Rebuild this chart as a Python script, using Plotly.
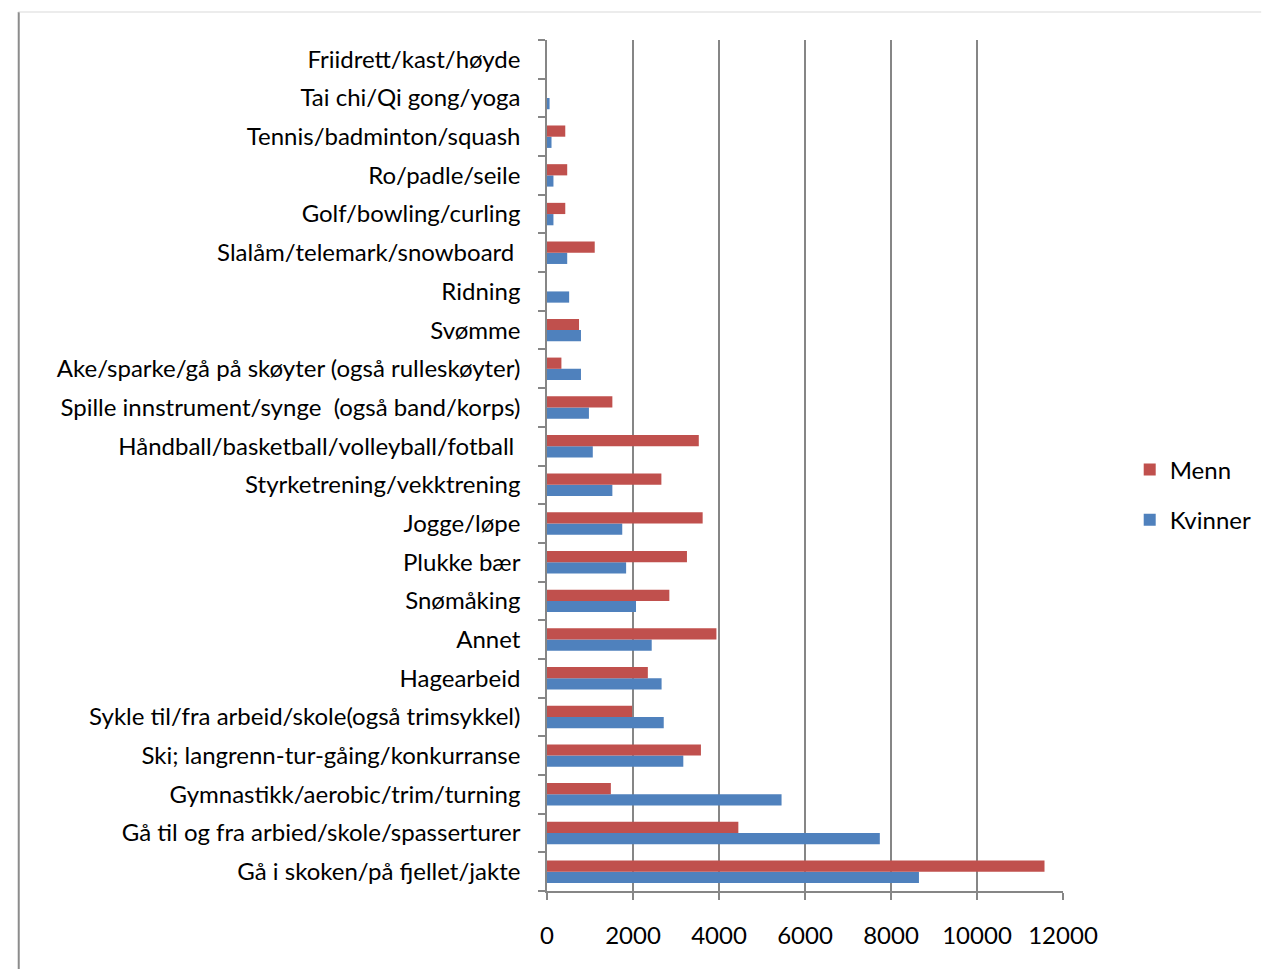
import plotly.graph_objects as go

categories = [
    "Gå i skoken/på fjellet/jakte",
    "Gå til og fra arbied/skole/spasserturer",
    "Gymnastikk/aerobic/trim/turning",
    "Ski; langrenn-tur-gåing/konkurranse",
    "Sykle til/fra arbeid/skole(også trimsykkel)",
    "Hagearbeid",
    "Annet",
    "Snømåking",
    "Plukke bær",
    "Jogge/løpe",
    "Styrketrening/vekktrening",
    "Håndball/basketball/volleyball/fotball ",
    "Spille innstrument/synge  (også band/korps)",
    "Ake/sparke/gå på skøyter (også rulleskøyter)",
    "Svømme",
    "Ridning",
    "Slalåm/telemark/snowboard ",
    "Golf/bowling/curling",
    "Ro/padle/seile",
    "Tennis/badminton/squash",
    "Tai chi/Qi gong/yoga",
    "Friidrett/kast/høyde",
]

kvinner = [8650, 7740, 5455, 3170, 2715, 2665, 2435, 2070, 1840, 1750, 1520,
           1065, 975, 790, 790, 515, 470, 150, 150, 105, 60, 0]
menn = [11570, 4450, 1485, 3580, 1980, 2345, 3940, 2845, 3255, 3620, 2660,
        3530, 1520, 335, 745, 0, 1110, 425, 470, 425, 0, 0]

x_ticks = [0, 2000, 4000, 6000, 8000, 10000, 12000]

FONT = "Lato"
FS = 24
W, H = 1269, 969
L, R, T, B = 547, 1269 - 1073, 40, 969 - 891
pw, ph = W - L - R, H - T - B

fig = go.Figure()
fig.add_trace(go.Bar(y=categories, x=kvinner, name="Kvinner", orientation="h",
                     marker=dict(color="#4F81BD", line=dict(width=0)),
                     legendgroup="k", legendrank=2))
fig.add_trace(go.Bar(y=categories, x=menn, name="Menn", orientation="h",
                     marker=dict(color="#C0504D", line=dict(width=0)),
                     legendgroup="m", legendrank=1))

def px_x(p):
    return (p - L) / pw

def px_y(p):
    return (H - B - p) / ph

# chart border (left + top)
fig.add_shape(type="line", xref="paper", yref="paper",
              x0=px_x(8.5), x1=px_x(8.5), y0=px_y(12), y1=px_y(975),
              line=dict(color="#8c8c8c", width=2))
fig.add_shape(type="line", xref="paper", yref="paper",
              x0=px_x(8), x1=px_x(1275), y0=px_y(12), y1=px_y(12),
              line=dict(color="#d9d9d9", width=1))

fig.update_layout(
    width=W, height=H,
    margin=dict(l=L, r=R, t=T, b=B, pad=0),
    paper_bgcolor="white", plot_bgcolor="white",
    barmode="group", bargap=0.42, bargroupgap=0,
    font=dict(family=FONT, size=FS, color="#000000"),
    showlegend=True,
    legend=dict(x=px_x(1141), y=px_y(495), xanchor="left", yanchor="middle",
                traceorder="grouped", tracegroupgap=16,
                font=dict(family=FONT, size=FS, color="#000"),
                bgcolor="rgba(0,0,0,0)"),
    xaxis=dict(range=[0, 12000], tickvals=x_ticks, ticktext=[str(v) for v in x_ticks],
               showgrid=True, gridcolor="#868686", gridwidth=1.5,
               showline=True, linecolor="#868686", linewidth=1.5,
               ticks="outside", ticklen=7, tickcolor="#868686", tickwidth=1.5,
               ticklabelstandoff=15, zeroline=False,
               tickfont=dict(family=FONT, size=FS, color="#000")),
    yaxis=dict(type="category", categoryorder="array", categoryarray=categories,
               showline=True, linecolor="#868686", linewidth=1.5,
               ticks="outside", ticklen=7, tickcolor="#868686", tickwidth=1.5,
               tickson="boundaries", showgrid=False,
               ticklabelstandoff=20,
               tickfont=dict(family=FONT, size=FS, color="#000")),
)

fig.write_html("out.html", config={"displayModeBar": False},
               post_script="document.body.style.margin='0';document.body.style.overflow='hidden';")
